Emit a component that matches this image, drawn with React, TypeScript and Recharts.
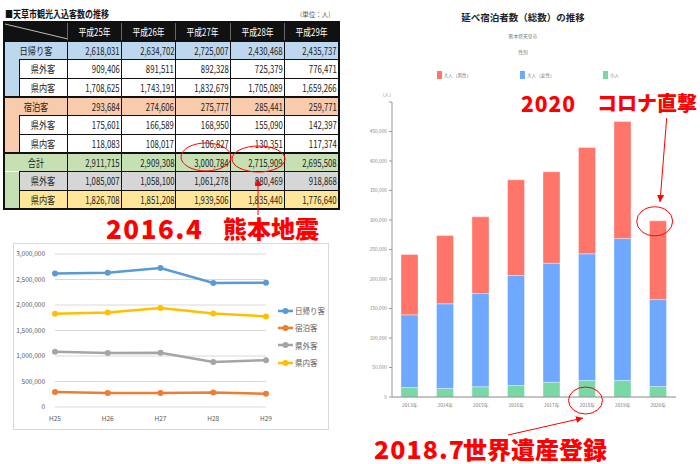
import React from 'react';
import { LineChart, Line, XAxis, YAxis, CartesianGrid, BarChart, Bar } from 'recharts';

// ---- table / line chart data (天草市観光入込客数) ----
const tableYears = ['平成25年', '平成26年', '平成27年', '平成28年', '平成29年'];
const dayTrip = [2618031, 2634702, 2725007, 2430468, 2435737];
const dayTripOut = [909406, 891511, 892328, 725379, 776471];
const dayTripIn = [1708625, 1743191, 1832679, 1705089, 1659266];
const stay = [293684, 274606, 275777, 285441, 259771];
const stayOut = [175601, 166589, 168950, 155090, 142397];
const stayIn = [118083, 108017, 106827, 130351, 117374];
const total = [2911715, 2909308, 3000784, 2715909, 2695508];
const totalOut = [1085007, 1058100, 1061278, 880469, 918868];
const totalIn = [1826708, 1851208, 1939506, 1835440, 1776640];

const lineCats = ['H25', 'H26', 'H27', 'H28', 'H29'];
const lineTicks = [0, 500000, 1000000, 1500000, 2000000, 2500000, 3000000];

// ---- bar chart data (延べ宿泊者数) ----
const barYears = ['2013年', '2014年', '2015年', '2016年', '2017年', '2018年', '2019年', '2020年'];
const male = [102200, 115700, 130000, 162200, 154900, 180200, 198400, 133400];
const female = [123200, 143600, 158100, 186400, 201700, 214700, 240600, 147400];
const child = [16100, 14400, 17300, 19500, 25100, 28000, 28000, 17800];
const barTicks = [0, 50000, 100000, 150000, 200000, 250000, 300000, 350000, 400000, 450000, 500000];

const lineData = lineCats.map((c, i) => ({
  cat: c,
  日帰り客: dayTrip[i],
  宿泊客: stay[i],
  県外客: totalOut[i],
  県内客: totalIn[i],
}));

const lineSeries = [
  { key: '日帰り客', color: '#5b9bd5' },
  { key: '宿泊客', color: '#ed7d31' },
  { key: '県外客', color: '#a5a5a5' },
  { key: '県内客', color: '#ffc000' },
];

const barData = barYears.map((y, i) => ({ year: y, male: male[i], female: female[i], child: child[i] }));

const barSeries = [
  { key: 'child', name: '小人', color: '#78d9a6' },
  { key: 'female', name: '大人（女性）', color: '#6ea8ff' },
  { key: 'male', name: '大人（男性）', color: '#ff756a' },
];
const barLegendOrder = ['male', 'female', 'child'];

const groups = [
  { main: '日帰り客', mainVals: dayTrip, subs: [dayTripOut, dayTripIn], mainBg: '#bdd7ee', subBg: ['#fff', '#fff'] },
  { main: '宿泊客', mainVals: stay, subs: [stayOut, stayIn], mainBg: '#f8cbad', subBg: ['#fff', '#fff'] },
  { main: '合計', mainVals: total, subs: [totalOut, totalIn], mainBg: '#c6e0b4', subBg: ['#d6d6d6', '#ffe699'] },
];
const subLabels = ['県外客', '県内客'];

const fmt = (v: number) => v.toLocaleString('en-US');
const JP = '"Noto Sans CJK JP", "Noto Sans", sans-serif';
const RED = '#ff0000';

const squeeze = (text: string, size: number, sx: number, origin: string) => (
  <span style={{ display: 'inline-block', fontSize: size, lineHeight: '12px', transform: `scaleX(${sx})`, transformOrigin: origin, whiteSpace: 'nowrap', verticalAlign: 'middle' }}>{text}</span>
);

const RH = 18.7;
const bd = '1px solid #111';
const cellBase = { padding: 0, lineHeight: '12px', height: RH, boxSizing: 'border-box' as const, overflow: 'hidden' };

function ValueCells({ vals }: { vals: number[] }) {
  return (
    <>
      {vals.map((v, i) => (
        <td key={i} style={{ ...cellBase, borderLeft: bd, borderTop: bd, textAlign: 'right', paddingRight: 1, color: '#222' }}>
          {squeeze(fmt(v), 10.5, 0.74, 'right center')}
        </td>
      ))}
    </>
  );
}

function DataTable() {
  return (
    <table style={{ position: 'absolute', left: 3, top: 20.7, borderCollapse: 'collapse', tableLayout: 'fixed', width: 335, fontFamily: JP, fontSize: 10, lineHeight: '12px', border: '2px solid #111' }}>
      <colgroup>
        <col style={{ width: 15 }} />
        <col style={{ width: 48 }} />
        {tableYears.map((y) => <col key={y} style={{ width: 54.4 }} />)}
      </colgroup>
      <tbody>
        <tr style={{ height: RH, background: '#111' }}>
          <td colSpan={2} style={{ ...cellBase }}>
            <svg width={63} height={17} style={{ display: 'block' }}>
              <line x1={0} y1={1} x2={63} y2={16} stroke="#bbb" strokeWidth={1} />
            </svg>
          </td>
          {tableYears.map((y) => (
            <td key={y} style={{ ...cellBase, borderLeft: '1px solid #666', color: '#fff', textAlign: 'center' }}>
              {squeeze(y, 10, 0.78, 'center')}
            </td>
          ))}
        </tr>
        {groups.map((g) => (
          <React.Fragment key={g.main}>
            <tr style={{ height: RH, background: g.mainBg, borderTop: '2px solid #111' }}>
              <td colSpan={2} style={{ ...cellBase, textAlign: 'center', color: '#222' }}>
                {squeeze(g.main, 10, 0.82, 'center')}
              </td>
              <ValueCells vals={g.mainVals} />
            </tr>
            {g.subs.map((vals, si) => (
              <tr key={si} style={{ height: RH, background: g.subBg[si] }}>
                {si === 0 && <td rowSpan={2} style={{ ...cellBase, height: undefined, background: g.mainBg }} />}
                <td style={{ ...cellBase, borderLeft: bd, borderTop: bd, textAlign: 'center', color: '#222' }}>
                  {squeeze(subLabels[si], 10, 0.82, 'center')}
                </td>
                <ValueCells vals={vals} />
              </tr>
            ))}
          </React.Fragment>
        ))}
      </tbody>
    </table>
  );
}

function VisitorLines() {
  return (
    <>
      <div style={{ position: 'absolute', left: 13, top: 243, width: 316, height: 187, border: '1px solid #d9d9d9', boxSizing: 'border-box' }} />
      <div style={{ position: 'absolute', left: 13, top: 243 }}>
        <LineChart width={316} height={187} data={lineData} margin={{ top: 11, right: 63, bottom: 0, left: 0 }}>
          <CartesianGrid vertical={false} stroke="#d9d9d9" />
          <XAxis dataKey="cat" axisLine={false} tickLine={false} height={23} tick={{ fontSize: 6.5, fill: '#595959', fontFamily: JP }} tickSize={0} dy={7} />
          <YAxis domain={[0, 3000000]} ticks={lineTicks} width={42} axisLine={false} tickLine={false} tickSize={0}
            tick={{ fontSize: 6.5, fill: '#595959', fontFamily: JP }} tickFormatter={fmt} dx={-8} />
          {lineSeries.map((s) => (
            <Line key={s.key} type="linear" dataKey={s.key} stroke={s.color} strokeWidth={2.5}
              dot={{ r: 3, fill: s.color, stroke: s.color, strokeWidth: 0 }} isAnimationActive={false} />
          ))}
        </LineChart>
      </div>
      <div style={{ position: 'absolute', left: 278, top: 302, fontFamily: JP }}>
        {lineSeries.map((s) => (
          <div key={s.key} style={{ height: 17.3, display: 'flex', alignItems: 'center' }}>
            <svg width={16} height={8}>
              <line x1={0} y1={4} x2={15} y2={4} stroke={s.color} strokeWidth={2.5} />
              <circle cx={7.5} cy={4} r={3} fill={s.color} />
            </svg>
            <span style={{ fontSize: 7.5, color: '#595959', marginLeft: 1 }}>{s.key}</span>
          </div>
        ))}
      </div>
    </>
  );
}

function StayBars() {
  const legendX = [436.7, 520, 603];
  return (
    <>
      <div style={{ position: 'absolute', left: 360, top: 10, width: 326, textAlign: 'center', fontFamily: JP, fontWeight: 700, fontSize: 9.5, color: '#222', lineHeight: '14px' }}>
        延べ宿泊者数（総数）の推移
      </div>
      <div style={{ position: 'absolute', left: 360, top: 33, width: 326, textAlign: 'center', fontFamily: JP, fontSize: 4.8, color: '#777', lineHeight: '6px' }}>熊本県天草市</div>
      <div style={{ position: 'absolute', left: 360, top: 49, width: 326, textAlign: 'center', fontFamily: JP, fontSize: 4.8, color: '#777', lineHeight: '6px' }}>性別</div>
      {barLegendOrder.map((k, i) => {
        const s = barSeries.find((b) => b.key === k)!;
        return (
          <div key={k} style={{ position: 'absolute', left: legendX[i], top: 71, display: 'flex', alignItems: 'center', fontFamily: JP }}>
            <div style={{ width: 5, height: 7.5, background: s.color }} />
            <span style={{ fontSize: 4.6, color: '#777', marginLeft: 2 }}>{s.name}</span>
          </div>
        );
      })}
      <div style={{ position: 'absolute', left: 380, top: 91, fontFamily: JP, fontSize: 4.6, color: '#888' }}>（人）</div>
      <div style={{ position: 'absolute', left: 360, top: 0 }}>
        <BarChart width={340} height={412} data={barData} margin={{ top: 102, right: 24, bottom: 0, left: 0 }} barCategoryGap="26%">
          <XAxis dataKey="year" height={15} axisLine={{ stroke: '#888' }} tickLine={false}
            tick={{ fontSize: 4.8, fill: '#777', fontFamily: JP }} dy={-1} />
          <YAxis domain={[0, 500000]} ticks={barTicks} width={32} axisLine={{ stroke: '#999' }} tickSize={3}
            tickLine={{ stroke: '#999' }} tick={{ fontSize: 4.8, fill: '#888', fontFamily: JP }}
            tickFormatter={(v: number) => (v === 500000 ? '' : fmt(v))} />
          {barSeries.map((s) => (
            <Bar key={s.key} dataKey={s.key} name={s.name} stackId="a" fill={s.color} stroke="#fff" strokeOpacity={0.6} strokeWidth={0.6} barSize={17} isAnimationActive={false} />
          ))}
        </BarChart>
      </div>
    </>
  );
}

function Notes() {
  const red = { position: 'absolute' as const, color: RED, fontFamily: JP, fontWeight: 900, lineHeight: 1, whiteSpace: 'nowrap' as const };
  return (
    <>
      <div style={{ ...red, left: 106, top: 215, fontSize: 26, letterSpacing: 1.5 }}>2016.4</div>
      <div style={{ ...red, left: 223, top: 216, fontSize: 24 }}>熊本地震</div>
      <div style={{ ...red, left: 521, top: 93, fontSize: 21, letterSpacing: 1 }}>2020</div>
      <div style={{ ...red, left: 597, top: 93, fontSize: 20 }}>コロナ直撃</div>
      <div style={{ ...red, left: 374, top: 436, fontSize: 25, letterSpacing: 1 }}>2018.7</div>
      <div style={{ ...red, left: 463, top: 437, fontSize: 24 }}>世界遺産登録</div>
      <svg width={700} height={464} style={{ position: 'absolute', left: 0, top: 0, pointerEvents: 'none' }}>
        <defs>
          <marker id="ah" viewBox="0 0 8 8" refX={8} refY={4} markerWidth={7} markerHeight={7} markerUnits="userSpaceOnUse" orient="auto">
            <path d="M0,0 L8,4 L0,8 z" fill={RED} />
          </marker>
        </defs>
        <g fill="none" stroke={RED} strokeWidth={1}>
          <ellipse cx={206} cy={157} rx={25} ry={14} />
          <ellipse cx={258.5} cy={159} rx={26.5} ry={13} />
          <ellipse cx={654.7} cy={221.3} rx={18} ry={14.5} />
          <ellipse cx={585.5} cy={400.5} rx={17} ry={13.5} />
          <line x1={258} y1={215} x2={258} y2={179} markerEnd="url(#ah)" />
          <line x1={666.7} y1={118} x2={660} y2={202} markerEnd="url(#ah)" />
          <line x1={508} y1={435} x2={583} y2={418} markerEnd="url(#ah)" />
        </g>
      </svg>
    </>
  );
}

export default function App() {
  return (
    <div style={{ position: 'absolute', left: 0, top: 0, width: 700, height: 464, background: '#fff', overflow: 'hidden' }}>
      <div style={{ position: 'absolute', left: 5, top: 7, fontFamily: JP, fontWeight: 700, fontSize: 10, color: '#111', lineHeight: '12px' }}>
        {squeeze('■天草市観光入込客数の推移', 10, 0.8, 'left center')}
      </div>
      <div style={{ position: 'absolute', left: 300, top: 9, fontFamily: JP, fontSize: 6.5, color: '#555' }}>(単位：人)</div>
      <DataTable />
      <VisitorLines />
      <StayBars />
      <Notes />
    </div>
  );
}
